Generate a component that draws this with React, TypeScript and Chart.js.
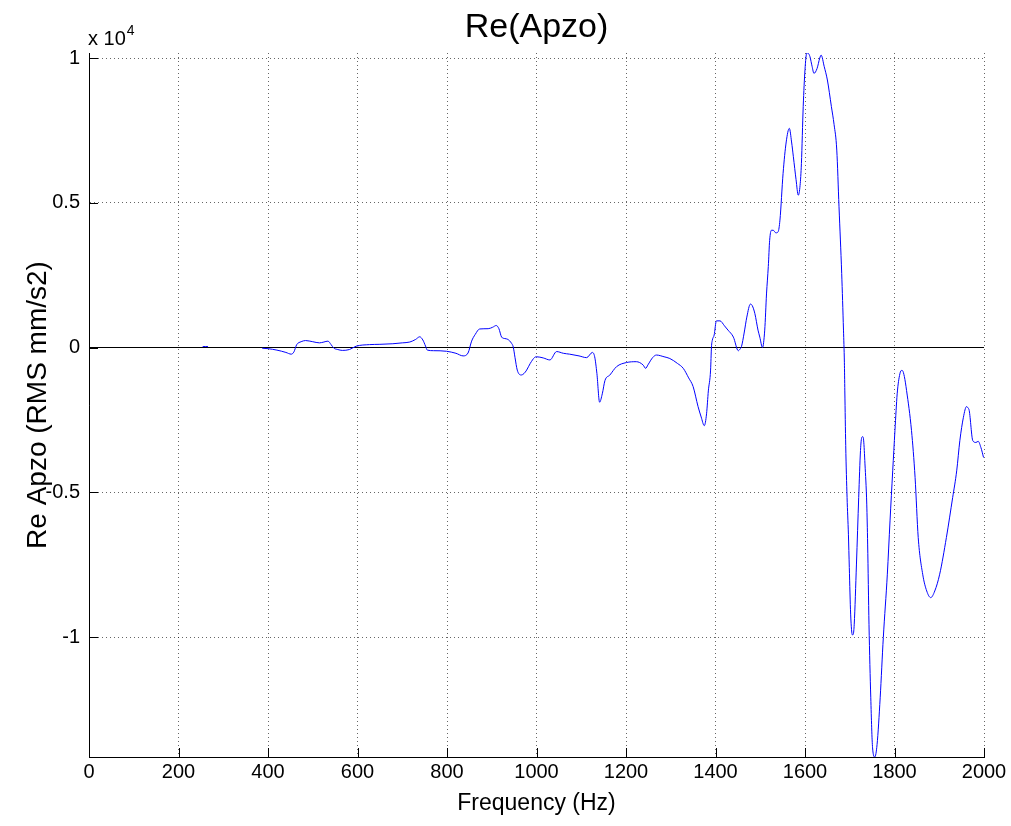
import React, { useEffect, useRef } from "react";
import { Chart, registerables } from "chart.js";

Chart.register(...registerables);

// ---- Data (Hz, RMS mm/s2) ----
const freqs: number[] = [
  254, 260, 266, 320,
  387, 400, 420, 440, 452, 458, 464, 474, 484, 500, 515, 525, 534, 541, 547, 556,
  566, 582, 597, 627, 650, 679, 700, 717, 730, 739, 746, 752, 756, 770, 799, 820,
  836, 847, 855, 863, 873, 892, 902, 910, 916, 922, 929, 936, 944, 948, 952, 957,
  966, 972, 978, 986, 996, 1000, 1015, 1030, 1045, 1060, 1074, 1095, 1112, 1125,
  1130, 1135, 1141, 1147, 1153, 1164, 1179, 1201, 1223, 1238, 1244, 1249, 1260,
  1268, 1285, 1298, 1315, 1328, 1340, 1350, 1361, 1368, 1375, 1380, 1384, 1389,
  1391, 1393, 1397, 1402, 1410, 1420, 1428, 1440, 1451, 1455, 1458, 1464, 1470,
  1478, 1482, 1488, 1495, 1499, 1505, 1510, 1514, 1518, 1521, 1525, 1529, 1535,
  1540, 1544, 1551, 1558, 1565, 1570, 1574, 1580, 1585, 1589, 1592, 1596, 1600,
  1604, 1608, 1611, 1616, 1620, 1627, 1633, 1636, 1643, 1650, 1659, 1665, 1671,
  1676, 1682, 1686, 1688, 1689, 1691, 1694, 1697, 1699, 1702, 1706, 1708, 1710,
  1715, 1720, 1724, 1727, 1729, 1731, 1734, 1738, 1740, 1743, 1747, 1751, 1756,
  1761, 1768, 1775, 1784, 1790, 1796, 1801, 1806, 1812, 1816, 1818, 1822, 1827,
  1838, 1846, 1853, 1863, 1872, 1881, 1890, 1901, 1916, 1930, 1939, 1946, 1954,
  1961, 1964, 1967, 1975, 1982, 1987, 1993, 1999,
];

const values: (number | null)[] = [
  30, 35, 30, null,
  -25, -40, -90, -170, -230, -150, 95, 200, 240, 200, 160, 190, 220, 100, -20, -70,
  -100, -70, 45, 100, 110, 130, 160, 190, 280, 370, 260, 50, -90, -110, -130, -200,
  -290, -190, 220, 450, 640, 650, 700, 760, 650, 360, 310, 280, 150, 20, -350, -780,
  -950, -900, -780, -550, -340, -320, -360, -430, -140, -200, -230, -290, -350, -170,
  -320, -900, -1890, -1600, -1140, -950, -660, -520, -490, -600, -720, -600, -340,
  -260, -320, -380, -550, -720, -1050, -1350, -2040, -2400, -2700, -2290, -1500, -780,
  20, 260, 430, 920, 920, 750, 600, 360, -110, -50, 30, 500, 1050,
  1500, 1450, 1170, 600, 360, 0, 600, 1850, 2800, 3700, 4050, 4050, 3960,
  4000, 4400, 6010, 7100, 7570, 7100, 6590, 5800, 5260, 5600, 6360, 8320, 9600,
  10173, 10150, 10050, 9700, 9470, 9640, 10000, 10100, 9700, 9240, 8320, 7700, 6820,
  4860, 2560, 600, -510, -1500, -3390, -5180, -6450, -7600, -9210, -9930, -9900, -9560,
  -7480, -5180, -3560, -3100, -3080, -3200, -4020, -5410, -6790, -9560, -12100, -13830, -14145,
  -13720, -12100, -10020, -7830, -5990, -4260, -2870, -1600, -910, -790, -800, -1000, -1490,
  -2870, -4490, -6560, -7830, -8410, -8640, -8410, -7830, -6560, -5180, -4260, -3220, -2410,
  -2040, -2080, -2180, -3220, -3280, -3240, -3450, -3800,
];

const zeroLineX: number[] = [0, 2000];
const zeroLineY: number[] = [0, 0];

const xTicks: number[] = [0, 200, 400, 600, 800, 1000, 1200, 1400, 1600, 1800, 2000];
const yTicks: number[] = [-10000, -5000, 0, 5000, 10000];
const yTickLabels: string[] = ["-1", "-0.5", "0", "0.5", "1"];

const xMin = 0;
const xMax = 2000;
const yMin = -14145;
const yMax = 10173;

const titleText = "Re(Apzo)";
const xLabel = "Frequency (Hz)";
const yLabel = "Re Apzo (RMS mm/s2)";
const expBase = "x 10";
const expPower = "4";

const FONT = '"Liberation Sans", Arial, Helvetica, sans-serif';

const matlabPlugin = {
  id: "matlabDecor",
  afterDraw(chart: any) {
    const { ctx, chartArea: ca, scales } = chart;
    const x = scales.x;
    const y = scales.y;
    ctx.save();
    // inward tick marks
    ctx.strokeStyle = "#000";
    ctx.lineWidth = 1;
    ctx.setLineDash([]);
    ctx.beginPath();
    xTicks.forEach((v) => {
      const px = Math.round(x.getPixelForValue(v)) + 0.5;
      ctx.moveTo(px, ca.bottom);
      ctx.lineTo(px, ca.bottom - 9);
    });
    yTicks.forEach((v) => {
      const py = Math.round(y.getPixelForValue(v)) + 0.5;
      ctx.moveTo(ca.left, py);
      ctx.lineTo(ca.left + 9, py);
    });
    ctx.stroke();

    // title
    ctx.fillStyle = "#000";
    ctx.textAlign = "center";
    ctx.textBaseline = "alphabetic";
    ctx.font = `34px ${FONT}`;
    ctx.fillText(titleText, (ca.left + ca.right) / 2, 37);

    // exponent
    ctx.textAlign = "left";
    ctx.font = `20px ${FONT}`;
    ctx.fillText(expBase, 88, 45);
    const w = ctx.measureText(expBase).width;
    ctx.font = `14px ${FONT}`;
    ctx.fillText(expPower, 88 + w + 1, 35);
    ctx.restore();
  },
};

export default function App() {
  const canvasRef = useRef<HTMLCanvasElement | null>(null);

  useEffect(() => {
    const canvas = canvasRef.current;
    if (!canvas) return;
    const chart = new Chart(canvas, {
      type: "line",
      data: {
        datasets: [
          {
            label: "Re(Apzo)",
            data: freqs.map((f, i) => ({ x: f, y: values[i] })),
            borderColor: "#0000ff",
            borderWidth: 1,
            pointRadius: 0,
            fill: false,
            spanGaps: false,
            cubicInterpolationMode: "monotone",
          },
          {
            label: "zero",
            data: zeroLineX.map((f, i) => ({ x: f, y: zeroLineY[i] })),
            borderColor: "#000000",
            borderWidth: 1,
            pointRadius: 0,
            fill: false,
          },
        ],
      },
      options: {
        responsive: false,
        animation: false,
        devicePixelRatio: 1,
        layout: { padding: { left: 0, top: 53, right: 27, bottom: 0 } },
        plugins: {
          legend: { display: false },
          tooltip: { enabled: false },
          title: { display: false },
        },
        scales: {
          x: {
            type: "linear",
            min: xMin,
            max: xMax,
            afterFit: (s: any) => {
              s.height = 69;
            },
            afterBuildTicks: (s: any) => {
              s.ticks = xTicks.map((v) => ({ value: v }));
            },
            grid: {
              color: "rgba(0,0,0,0.6)",
              drawTicks: false,
              lineWidth: 1,
            },
            border: { display: true, color: "#000", width: 1, dash: [1, 3] },
            ticks: {
              color: "#000",
              font: { family: FONT, size: 20 },
              padding: 3,
              maxRotation: 0,
              autoSkip: false,
              callback: (v: any) => String(v),
            },
            title: {
              display: true,
              text: xLabel,
              color: "#000",
              font: { family: FONT, size: 23 },
              padding: { top: 0, bottom: 9 },
            },
          },
          y: {
            type: "linear",
            min: yMin,
            max: yMax,
            afterFit: (s: any) => {
              s.width = 89;
            },
            afterBuildTicks: (s: any) => {
              s.ticks = yTicks.map((v) => ({ value: v }));
            },
            grid: {
              color: "rgba(0,0,0,0.6)",
              drawTicks: false,
              lineWidth: 1,
            },
            border: { display: true, color: "#000", width: 1, dash: [1, 3] },
            ticks: {
              color: "#000",
              font: { family: FONT, size: 20 },
              padding: 9,
              autoSkip: false,
              callback: (v: any) => {
                const idx = yTicks.indexOf(Number(v));
                return idx >= 0 ? yTickLabels[idx] : "";
              },
            },
            title: {
              display: true,
              text: yLabel,
              color: "#000",
              font: { family: FONT, size: 28 },
              padding: { top: 21, bottom: 0 },
            },
          },
        },
      },
      plugins: [matlabPlugin],
    } as any);
    return () => chart.destroy();
  }, []);

  return (
    <div style={{ position: "absolute", left: 0, top: 0, width: 1011, height: 826, background: "#fff" }}>
      <canvas ref={canvasRef} width={1011} height={826} style={{ display: "block", width: 1011, height: 826 }} />
    </div>
  );
}
